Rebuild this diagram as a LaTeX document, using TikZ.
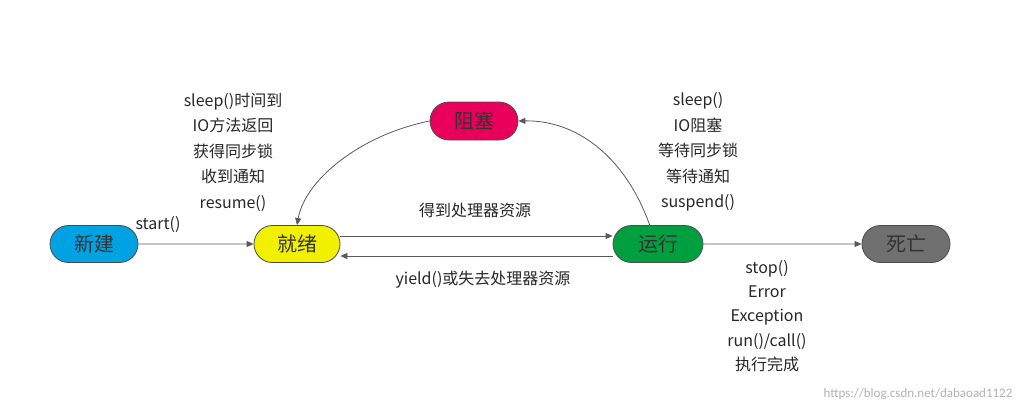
\documentclass[tikz,border=0pt]{standalone}
\usepackage{fontspec}
\setmainfont{Carlito}
\newfontfamily\cjk{Noto Sans CJK SC}
\usetikzlibrary{arrows.meta,shapes.misc}
\begin{document}
\begin{tikzpicture}[x=1pt,y=-1pt,
  st/.style={rounded rectangle,draw=black!70,line width=0.8pt,minimum width=88pt,minimum height=37pt,inner sep=0pt,font=\cjk\fontsize{20}{20}\selectfont,text=black!80},
  lab/.style={font=\cjk\fontsize{16}{25.5}\selectfont,text=black!85,align=center},
  ar/.style={-{Triangle[length=7pt,width=6pt]},draw=black!65,line width=0.8pt}]
\useasboundingbox (0,0) rectangle (1024,410);
\node[st,fill={rgb,255:red,0;green,162;blue,226}] (new) at (94,244) {新建};
\node[st,fill={rgb,255:red,240;green,240;blue,0},minimum width=86pt] (ready) at (297,244) {就绪};
\node[st,fill={rgb,255:red,0;green,160;blue,64},minimum width=90pt] (run) at (658,244) {运行};
\node[st,fill={rgb,255:red,112;green,112;blue,112}] (dead) at (906,244) {死亡};
\node[st,fill={rgb,255:red,232;green,0;blue,90},minimum height=38pt] (blk) at (474,121) {阻塞};
\draw[ar] (new) -- (ready);
\draw[ar] (ready.east |- 0,236) -- (run.west |- 0,236);
\draw[ar] (run.west |- 0,256) -- (ready.east |- 0,256);
\draw[ar] (run) -- (dead);
\draw[ar] (blk.west) .. controls (360,135) and (305,180) .. (ready.north);
\coordinate (r1) at (650,226);
\draw[ar] (r1) .. controls (625,155) and (575,120) .. (blk.east);
\node[lab] (l1) at (233,152) {sleep()时间到\\IO方法返回\\获得同步锁\\收到通知\\resume()};
\node[lab] (l2) at (158,225) {start()};
\node[lab] (l3) at (475,210) {得到处理器资源};
\node[lab] (l4) at (483,280) {yield()或失去处理器资源};
\node[lab] (l5) at (698,152) {sleep()\\IO阻塞\\等待同步锁\\等待通知\\suspend()};
\node[lab,font=\cjk\fontsize{16}{24.3}\selectfont] (l6) at (767,316) {stop()\\Error\\Exception\\run()/call()\\执行完成};
\node[font=\fontsize{13}{13}\selectfont,text=black!30,anchor=east] (wm) at (1016,394) {https://blog.csdn.net/dabaoad1122};
\end{tikzpicture}
\end{document}
